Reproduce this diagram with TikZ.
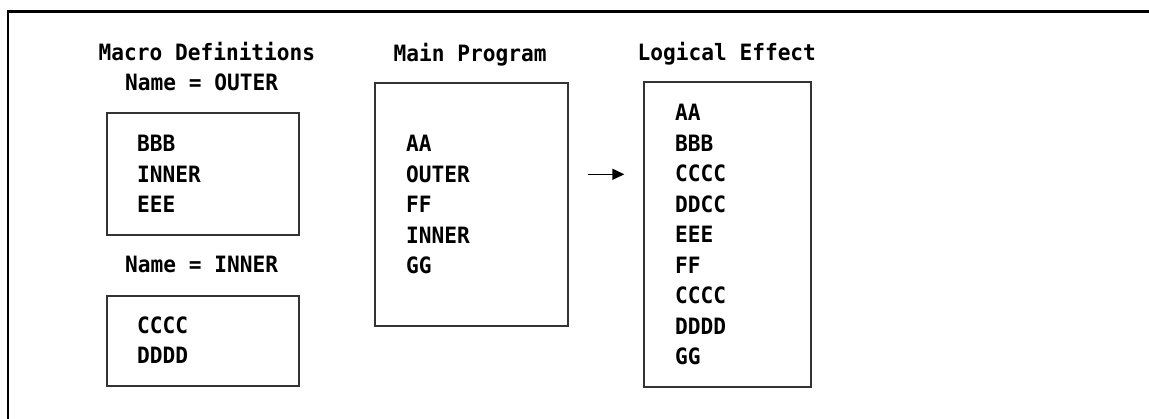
\documentclass[tikz,border=0pt]{standalone}
\usepackage{fontspec}
\newfontfamily\codefont[FakeStretch=0.94]{DejaVu Sans Mono}
\usepackage{tikz}
\usetikzlibrary{arrows.meta}

\begin{document}
\begin{tikzpicture}[x=1pt,y=-1pt,
    box/.style={draw=black!80,line width=1.3pt,inner sep=0pt},
    code/.style={anchor=base west,inner sep=0pt,font=\codefont\bfseries\fontsize{22.5}{26}\selectfont},
    flow/.style={-{Triangle[length=12pt,width=11pt]},line width=1.5pt}]
                \useasboundingbox (0,0) rectangle (1149,419);
                \draw[line width=2.2pt] (8.3,419) -- (8.3,11.5) -- (1149,11.5);
                % titles
                \node[code] (tmacro) at (98.5,61) {Macro Definitions};
                \node[code] (touter) at (125,91) {Name = OUTER};
                \node[code] (tinner) at (125,273) {Name = INNER};
                \node[code] (tmain) at (393.5,61.5) {Main Program};
                \node[code] (teff) at (637.5,61) {Logical Effect};
                % boxes
                \node[box,minimum width=192pt,minimum height=122pt] (outer) at (203,174) {};
                \node[box,minimum width=192pt,minimum height=90pt] (inner) at (203,341) {};
                \node[box,minimum width=193pt,minimum height=243pt] (main) at (471.5,204.5) {};
                \node[box,minimum width=167pt,minimum height=305pt] (effect) at (727.5,234.5) {};
                % contents
                \foreach \t [count=\i] in {BBB,INNER,EEE}
                    \node[code] (out-\i) at (137,{152+30.5*(\i-1)}) {\t};
                \foreach \t [count=\i] in {CCCC,DDDD}
                    \node[code] (inn-\i) at (137,{333.5+30.5*(\i-1)}) {\t};
                \foreach \t [count=\i] in {AA,OUTER,FF,INNER,GG}
                    \node[code] (mp-\i) at (406,{152+30.5*(\i-1)}) {\t};
                \foreach \t [count=\i] in {AA,BBB,CCCC,DDCC,EEE,FF,CCCC,DDDD,GG}
                    \node[code] (eff-\i) at (675,{121+30.5*(\i-1)}) {\t};
                \draw[flow,shorten <=19pt,shorten >=19pt] (main.east |- mp-2.west) -- (effect.west |- mp-2.west);
            \end{tikzpicture}
\end{document}
